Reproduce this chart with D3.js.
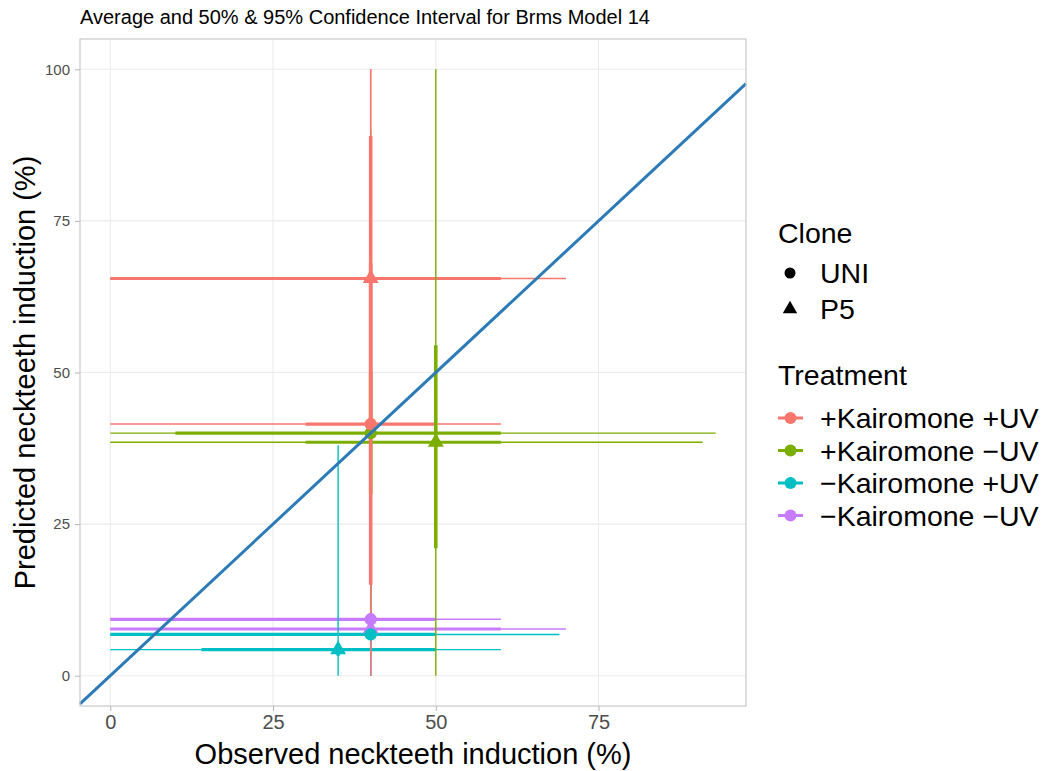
<!DOCTYPE html>
<html>
<head>
<meta charset="utf-8">
<script src="https://cdn.jsdelivr.net/npm/d3@7/dist/d3.min.js"></script>
<style>
  body { margin: 0; background: #fff; }
  svg { display: block; font-family: "Liberation Sans", Arial, sans-serif; }
</style>
</head>
<body>
<svg id="chart" width="1051" height="771"></svg>
<script>
// Treatment / clone levels and colours
const treatments = ["+Kairomone +UV", "+Kairomone \u2212UV", "\u2212Kairomone +UV", "\u2212Kairomone \u2212UV"];
const treatmentColors = ["#F8766D", "#7CAE00", "#00BFC4", "#C77CFF"];
const clones = ["UNI", "P5"];

// One entry per treatment x clone group
const groupTreatment = [0, 0, 1, 1, 2, 2, 3, 3];
const groupClone     = ["UNI", "P5", "UNI", "P5", "UNI", "P5", "UNI", "P5"];

// Observed induction (%): mean, 50% and 95% intervals
const obsMean = [40, 40, 40, 50, 40, 35, 40, 40];
const obsLo50 = [30, 0, 10, 30, 0, 14, 0, 0];
const obsHi50 = [50, 60, 60, 60, 50, 50, 50, 60];
const obsLo95 = [0, 0, 0, 0, 0, 0, 0, 0];
const obsHi95 = [60, 70, 93, 91, 69, 60, 60, 70];

// Predicted induction (%): mean, 50% and 95% intervals
const predMean = [41.5, 65.5, 40, 38.5, 6.8, 4.3, 9.3, 7.7];
const predLo50 = [15, 42, 30, 21, 6, 3.3, 8.3, 6.8];
const predHi50 = [68, 89, 50, 54.5, 7.8, 5.3, 10.3, 8.7];
const predLo95 = [0, 3, 8, 0, 0, 0, 0, 0];
const predHi95 = [100, 100, 90, 100, 30, 38, 30, 28];

const xTicks = [0, 25, 50, 75];
const yTicks = [0, 25, 50, 75, 100];
const xDomain = [-4.65, 97.65];
const yDomain = [-5, 105];

const svg = d3.select("#chart");
const panel = { left: 80, right: 746, top: 39, bottom: 706 };

const x = d3.scaleLinear().domain(xDomain).range([panel.left, panel.right]);
const y = d3.scaleLinear().domain(yDomain).range([panel.bottom, panel.top]);

// Title
svg.append("text")
  .attr("x", 80).attr("y", 24)
  .attr("font-size", 20).attr("fill", "#000")
  .text("Average and 50% & 95% Confidence Interval for Brms Model 14");

// Panel background + grid
svg.append("rect")
  .attr("x", panel.left).attr("y", panel.top)
  .attr("width", panel.right - panel.left).attr("height", panel.bottom - panel.top)
  .attr("fill", "#fff");

const grid = svg.append("g");
grid.selectAll(".gx").data(xTicks).join("line")
  .attr("x1", d => x(d)).attr("x2", d => x(d))
  .attr("y1", panel.top).attr("y2", panel.bottom)
  .attr("stroke", "#ebebeb").attr("stroke-width", 1.1);
grid.selectAll(".gy").data(yTicks).join("line")
  .attr("y1", d => y(d)).attr("y2", d => y(d))
  .attr("x1", panel.left).attr("x2", panel.right)
  .attr("stroke", "#ebebeb").attr("stroke-width", 1.1);

// Axes
const xAxis = svg.append("g")
  .attr("transform", `translate(0,${panel.bottom})`)
  .call(d3.axisBottom(x).tickValues(xTicks).tickSize(5).tickPadding(4));
xAxis.select(".domain").remove();
xAxis.selectAll("line").attr("stroke", "#b3b3b3");
xAxis.selectAll("text").attr("font-size", 20).attr("fill", "#4d4d4d")
  .attr("font-family", "Liberation Sans, Arial, sans-serif");

const yAxis = svg.append("g")
  .attr("transform", `translate(${panel.left},0)`)
  .call(d3.axisLeft(y).tickValues(yTicks).tickSize(5).tickPadding(5));
yAxis.select(".domain").remove();
yAxis.selectAll("line").attr("stroke", "#b3b3b3");
yAxis.selectAll("text").attr("font-size", 15).attr("fill", "#4d4d4d")
  .attr("font-family", "Liberation Sans, Arial, sans-serif");

// Axis titles
svg.append("text")
  .attr("x", (panel.left + panel.right) / 2).attr("y", 764)
  .attr("text-anchor", "middle").attr("font-size", 29).attr("fill", "#000")
  .text("Observed neckteeth induction (%)");
svg.append("text")
  .attr("transform", `translate(35,${(panel.top + panel.bottom) / 2}) rotate(-90)`)
  .attr("text-anchor", "middle").attr("font-size", 29).attr("fill", "#000")
  .text("Predicted neckteeth induction (%)");

const idx = d3.range(obsMean.length);
const color = i => treatmentColors[groupTreatment[i]];

const marks = svg.append("g");

// Horizontal intervals (observed)
marks.selectAll(".h95").data(idx).join("line")
  .attr("x1", i => x(obsLo95[i])).attr("x2", i => x(obsHi95[i]))
  .attr("y1", i => y(predMean[i])).attr("y2", i => y(predMean[i]))
  .attr("stroke", color).attr("stroke-width", 1.4);
marks.selectAll(".h50").data(idx).join("line")
  .attr("x1", i => x(obsLo50[i])).attr("x2", i => x(obsHi50[i]))
  .attr("y1", i => y(predMean[i])).attr("y2", i => y(predMean[i]))
  .attr("stroke", color).attr("stroke-width", 3.2);

// Vertical intervals (predicted); first treatment ends up on top
const vIdx = idx.slice().reverse();
const vert = marks.append("g");
vIdx.forEach(i => {
  vert.append("line")
    .attr("x1", x(obsMean[i])).attr("x2", x(obsMean[i]))
    .attr("y1", y(predLo95[i])).attr("y2", y(predHi95[i]))
    .attr("stroke", color(i)).attr("stroke-width", 1.4);
  vert.append("line")
    .attr("x1", x(obsMean[i])).attr("x2", x(obsMean[i]))
    .attr("y1", y(predLo50[i])).attr("y2", y(predHi50[i]))
    .attr("stroke", color(i)).attr("stroke-width", 3.6);
});

// 1:1 reference line
svg.append("line")
  .attr("x1", x(xDomain[0])).attr("y1", y(xDomain[0]))
  .attr("x2", x(xDomain[1])).attr("y2", y(xDomain[1]))
  .attr("stroke", "#2c7bb6").attr("stroke-width", 3);

// Points
const symCircle = d3.symbol().type(d3.symbolCircle).size(120);
const symTri = d3.symbol().type(d3.symbolTriangle).size(110);
marks.append("g").selectAll("path").data(vIdx).join("path")
  .attr("transform", i => `translate(${x(obsMean[i])},${y(predMean[i])})`)
  .attr("d", i => groupClone[i] === "UNI" ? symCircle() : symTri())
  .attr("fill", color);

// Panel border
svg.append("rect")
  .attr("x", panel.left).attr("y", panel.top)
  .attr("width", panel.right - panel.left).attr("height", panel.bottom - panel.top)
  .attr("fill", "none").attr("stroke", "#c8c8c8").attr("stroke-width", 1.2);

// Legend: Clone
const lg = svg.append("g").attr("font-size", 28.5).attr("fill", "#000");
lg.append("text").attr("x", 778).attr("y", 243).text("Clone");
clones.forEach((c, k) => {
  const cy = 273 + k * 36;
  lg.append("path")
    .attr("transform", `translate(790,${cy})`)
    .attr("d", c === "UNI" ? d3.symbol().type(d3.symbolCircle).size(95)() : d3.symbol().type(d3.symbolTriangle).size(90)())
    .attr("fill", "#000");
  lg.append("text").attr("x", 820).attr("y", cy + 10).text(c);
});

// Legend: Treatment
lg.append("text").attr("x", 778).attr("y", 385).text("Treatment");
treatments.forEach((t, k) => {
  const cy = 418 + k * 32.5;
  lg.append("line")
    .attr("x1", 778).attr("x2", 803).attr("y1", cy).attr("y2", cy)
    .attr("stroke", treatmentColors[k]).attr("stroke-width", 3);
  lg.append("circle").attr("cx", 790.5).attr("cy", cy).attr("r", 6)
    .attr("fill", treatmentColors[k]);
  lg.append("text").attr("x", 820).attr("y", cy + 10).text(t);
});
</script>
</body>
</html>
